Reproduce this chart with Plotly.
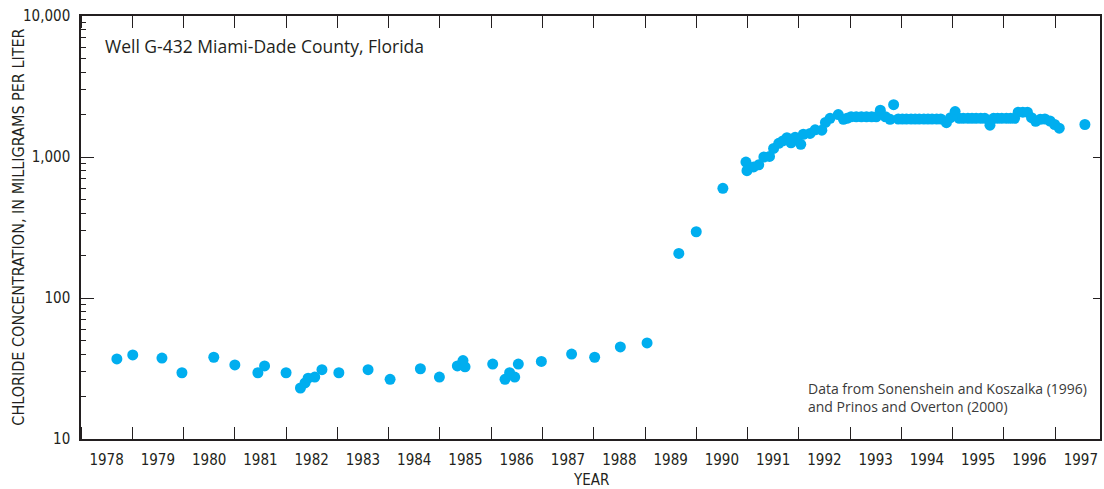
import plotly.graph_objects as go
from datetime import datetime

# ---- data (decimal year of sample, chloride in mg/L) ----
sample_year = [
    1978.70, 1979.01, 1979.58, 1979.97, 1980.59, 1981.00, 1981.45, 1981.58,
    1982.00, 1982.28, 1982.37, 1982.43, 1982.56, 1982.70,
    1983.03, 1983.60, 1984.03, 1984.62, 1984.99,
    1985.34, 1985.45, 1985.49, 1986.03, 1986.27, 1986.36, 1986.46, 1986.53, 1986.98,
    1987.57, 1988.02, 1988.52, 1989.04, 1989.66, 1990.00, 1990.52,
    1990.97, 1990.99, 1991.12, 1991.22, 1991.32, 1991.43, 1991.51, 1991.61,
    1991.69, 1991.77, 1991.85, 1991.93,
    1992.04, 1992.09, 1992.22, 1992.32, 1992.45, 1992.52, 1992.61, 1992.77,
    1992.87, 1992.94,
    1993.02, 1993.12, 1993.22, 1993.32, 1993.42, 1993.51, 1993.59, 1993.69,
    1993.78, 1993.85,
    1993.94, 1994.02, 1994.10, 1994.19, 1994.27, 1994.35, 1994.44, 1994.52,
    1994.60, 1994.69, 1994.77, 1994.88, 1994.96, 1995.05, 1995.13,
    1995.21, 1995.30, 1995.38, 1995.46, 1995.55, 1995.63, 1995.73,
    1995.80, 1995.88, 1995.96, 1996.05, 1996.13, 1996.21,
    1996.28, 1996.37, 1996.46, 1996.54, 1996.62, 1996.71, 1996.80, 1996.90,
    1996.99, 1997.08, 1997.58,
]
chloride_mg_l = [
    37, 39.5, 37.5, 29.5, 38, 33.5, 29.5, 33,
    29.5, 23, 25, 27, 27.5, 31,
    29.5, 31, 26.5, 31.5, 27.5,
    33, 36, 32.5, 34, 26.5, 29.5, 27.5, 34, 35.5,
    40, 38, 45, 48, 207, 295, 600,
    920, 800, 850, 880, 1000, 1010, 1150, 1250,
    1300, 1370, 1260, 1380,
    1230, 1450, 1470, 1560, 1550, 1760, 1880, 2000,
    1850, 1880,
    1930, 1930, 1930, 1930, 1930, 1930, 2150, 1930,
    1850, 2350,
    1860, 1860, 1860, 1860, 1860, 1860, 1860, 1860,
    1860, 1860, 1860, 1750, 1900, 2100, 1880,
    1880, 1880, 1880, 1880, 1880, 1880, 1680,
    1880, 1880, 1880, 1880, 1880, 1880,
    2080, 2080, 2080, 1900, 1790, 1850, 1860, 1800,
    1700, 1600, 1700,
]

y_tick_values = [10, 100, 1000, 10000]
y_tick_labels = ["10", "100", "1,000", "10,000"]
y_minor_values = [m * d for d in (10, 100, 1000) for m in range(2, 10)]

title_text = "Well G-432 Miami-Dade County, Florida"
source_text = "Data from Sonenshein and Koszalka (1996)<br>and Prinos and Overton (2000)"
y_title = "CHLORIDE CONCENTRATION, IN MILLIGRAMS PER LITER"
x_title = "YEAR"


def year_to_date(y):
    yr = int(y)
    start = datetime(yr, 1, 1)
    end = datetime(yr + 1, 1, 1)
    return start + (end - start) * (y - yr)


dates = [year_to_date(y) for y in sample_year]

INK = "#231F20"
COND = "Liberation Sans Narrow, DejaVu Sans Condensed, Arial Narrow, sans-serif"
REG = "Open Sans, Liberation Sans, Arial, sans-serif"

fig = go.Figure()
fig.add_trace(go.Scatter(
    x=dates, y=chloride_mg_l, mode="markers",
    marker=dict(color="#00AEEF", size=11, line=dict(width=0)),
    hoverinfo="x+y", showlegend=False,
))
# invisible trace to carry the right-hand axis
fig.add_trace(go.Scatter(
    x=[dates[0]], y=[chloride_mg_l[0]], yaxis="y2", mode="markers",
    marker=dict(opacity=0), showlegend=False, hoverinfo="skip",
))

fig.update_layout(
    width=1104, height=489,
    margin=dict(l=81, r=2, t=16, b=50),
    paper_bgcolor="white", plot_bgcolor="white",
    xaxis=dict(
        type="date",
        range=[datetime(1978, 1, 1), year_to_date(1997.875)],
        tick0="1978-01-01", dtick="M12", tickformat="%Y",
        ticklabelmode="period",
        ticks="inside", ticklen=12, tickwidth=1.3, tickcolor=INK,
        showline=True, linecolor=INK, linewidth=1.5, mirror="ticks",
        showgrid=False, zeroline=False,
        tickfont=dict(family=COND, size=15, color=INK),
        ticklabelstandoff=6,
    ),
    yaxis=dict(
        type="log", range=[1, 4],
        tickmode="array", tickvals=y_tick_values, ticktext=y_tick_labels,
        ticks="inside", ticklen=13, tickwidth=1.3, tickcolor=INK,
        minor=dict(tickmode="array", tickvals=y_minor_values, ticks="inside",
                   ticklen=5, tickwidth=1.1, tickcolor=INK, showgrid=False),
        showline=True, linecolor=INK, linewidth=1.5, mirror=True,
        showgrid=False, zeroline=False,
        tickfont=dict(family=COND, size=15, color=INK),
        ticklabelstandoff=6,
    ),
    yaxis2=dict(
        type="log", range=[1, 4], overlaying="y", side="right",
        tickmode="array", tickvals=y_tick_values, showticklabels=False,
        ticks="inside", ticklen=7, tickwidth=1.3, tickcolor=INK,
        showline=False, showgrid=False, zeroline=False,
    ),
    annotations=[
        dict(text=title_text, xref="paper", yref="paper", x=0.0215, y=0.929,
             xanchor="left", yanchor="middle", showarrow=False,
             font=dict(family=REG, size=17.5, color=INK)),
        dict(text=source_text, xref="paper", yref="paper", x=0.711, y=0.097,
             xanchor="left", yanchor="middle", align="left", showarrow=False,
             font=dict(family=REG, size=14, color="#3a3a3a")),
        dict(text=x_title, xref="paper", yref="paper", x=0.5, y=-0.097,
             xanchor="center", yanchor="middle", showarrow=False,
             font=dict(family=COND, size=15, color=INK)),
        dict(text=y_title, xref="paper", yref="paper", x=-0.0617, y=0.5,
             xanchor="center", yanchor="middle", textangle=-90, showarrow=False,
             font=dict(family=COND, size=16, color=INK)),
    ],
)

fig.write_html(
    "out.html",
    config={"displayModeBar": False},
    post_script="document.body.style.margin='0';document.body.style.overflow='hidden';",
)
